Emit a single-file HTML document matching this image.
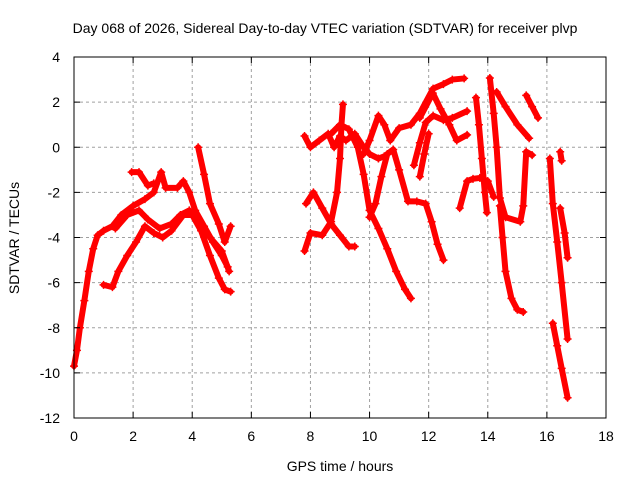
<!DOCTYPE html>
<html><head><meta charset="utf-8"><style>
body{margin:0;background:#fff}
svg{display:block;font-family:"Liberation Sans",sans-serif}
</style></head><body>
<svg id="chart" width="640" height="480">
<text x="325" y="33" text-anchor="middle" font-size="14">Day 068 of 2026, Sidereal Day-to-day VTEC variation (SDTVAR) for receiver plvp</text>
<text x="340" y="471" text-anchor="middle" font-size="14">GPS time / hours</text>
<text transform="translate(19,238) rotate(-90)" text-anchor="middle" font-size="14">SDTVAR / TECUs</text>
<g id="grid"></g><g id="marks"></g><g id="axes"></g>
</svg>
<script>
const xTicks=[0,2,4,6,8,10,12,14,16,18];
const yTicks=[4,2,0,-2,-4,-6,-8,-10,-12];
const track1=[[0,-9.7],[0.1,-9],[0.2,-8],[0.35,-6.8],[0.5,-5.5],[0.65,-4.5],[0.8,-3.9],[1.0,-3.7],[1.3,-3.5],[1.6,-3.0],[2.0,-2.6],[2.4,-2.3],[2.7,-2.0],[2.95,-1.1],[3.1,-1.8],[3.5,-1.8],[3.7,-1.5],[3.9,-2.0],[4.1,-2.8],[4.4,-3.5],[4.7,-4.2],[5.0,-4.8],[5.2,-5.3]];
const track2=[[1.95,-1.1],[2.2,-1.1],[2.5,-1.7],[2.7,-1.6]];
const track3=[[1.4,-3.6],[1.8,-3.0],[2.2,-2.8],[2.5,-3.2],[2.9,-3.6],[3.3,-3.4],[3.6,-3.0],[3.9,-2.8],[4.2,-3.3],[4.6,-4.0],[5.0,-4.6],[5.25,-5.5]];
const track4=[[1.0,-6.1],[1.3,-6.2],[1.5,-5.5],[1.8,-4.8],[2.1,-4.2],[2.4,-3.5],[2.7,-3.8],[3.0,-4.0],[3.3,-3.7],[3.7,-3.0],[4.0,-3.0],[4.3,-3.7],[4.6,-4.8],[4.9,-5.8],[5.1,-6.3],[5.3,-6.4]];
const track5=[[4.2,0.0],[4.4,-1.2],[4.6,-2.5],[4.9,-3.4],[5.1,-4.2],[5.3,-3.5]];
const track6=[[7.8,-4.6],[8.0,-3.8],[8.4,-3.9],[8.7,-3.3],[8.9,-2.0],[9.0,-0.5],[9.05,1.0],[9.1,1.9]];
const track7=[[7.85,-2.5],[8.1,-2.0],[8.4,-2.7],[8.7,-3.4],[9.0,-3.9],[9.3,-4.4],[9.5,-4.4]];
const track8=[[7.8,0.5],[8.0,0.0],[8.3,0.3],[8.6,0.6],[8.8,0.0],[9.0,0.5],[9.2,0.3],[9.5,0.6],[9.8,0.0],[10.0,-0.3],[10.3,-0.5],[10.5,-0.4]];
const track9=[[8.7,0.6],[9.0,1.0],[9.3,0.8],[9.6,0.0],[9.8,-1.2],[10.0,-2.8],[10.3,-3.6],[10.6,-4.5],[10.9,-5.5],[11.2,-6.3],[11.4,-6.7]];
const track10=[[9.8,-0.3],[10.0,0.3],[10.3,1.4],[10.5,1.0],[10.7,0.3],[11.0,0.85],[11.4,1.0],[11.7,1.5],[12.15,2.6],[12.5,2.8],[12.8,3.0],[13.2,3.05]];
const track11=[[10.0,-3.1],[10.2,-2.5],[10.4,-1.3],[10.6,-0.3],[10.8,-0.1],[11.0,-1.0],[11.3,-2.4],[11.6,-2.4],[11.9,-2.5],[12.1,-3.3],[12.3,-4.3],[12.5,-5.0]];
const track12=[[11.7,1.3],[12.14,2.4],[12.4,1.7],[12.7,1.0],[12.95,0.3],[13.3,0.55]];
const track13=[[11.5,-0.8],[11.7,0.2],[11.9,1.1],[12.15,1.4],[12.5,1.2],[12.8,1.3],[13.3,1.6]];
const track14=[[11.7,-1.3],[11.85,-0.3],[12.0,0.6]];
const track15=[[14.07,3.07],[14.2,1.5],[14.3,0.0],[14.41,-2.25],[14.6,-3.1],[15.1,-3.3],[15.2,-2.6],[15.3,-0.2],[15.5,-0.35]];
const track16=[[14.41,-2.6],[14.5,-4.0],[14.6,-5.5],[14.8,-6.7],[15.0,-7.2],[15.2,-7.3]];
const track17=[[13.6,2.2],[13.7,1.0],[13.8,-0.5],[13.9,-2.0],[13.97,-2.9]];
const track18=[[13.05,-2.7],[13.3,-1.5],[13.5,-1.4],[13.73,-1.36],[14.0,-1.5],[14.2,-2.2]];
const track19=[[15.3,2.3],[15.5,1.8],[15.7,1.3]];
const track20=[[14.3,2.45],[14.6,1.8],[15.0,1.0],[15.4,0.4]];
const track21=[[16.1,-0.5],[16.2,-2.5],[16.35,-4.2],[16.5,-6.0],[16.7,-8.5]];
const track22=[[16.45,-0.2],[16.5,-0.6]];
const track23=[[16.2,-7.8],[16.35,-8.8],[16.5,-9.8],[16.7,-11.1]];
const track24=[[16.45,-2.7],[16.6,-3.8],[16.7,-4.9]];
const tracks=[track1,track2,track3,track4,track5,track6,track7,track8,track9,track10,track11,track12,track13,track14,track15,track16,track17,track18,track19,track20,track21,track22,track23,track24];

const X0=74,X1=606,Y0=57,Y1=418;
const xs=t=>X0+(t-0)/(18-0)*(X1-X0);
const ys=v=>Y0+(4-v)/(4-(-12))*(Y1-Y0);
const NS="http://www.w3.org/2000/svg";
const grid=document.getElementById('grid'),axes=document.getElementById('axes'),marks=document.getElementById('marks');
function mk(tag,attrs,parent){const e=document.createElementNS(NS,tag);for(const k in attrs)e.setAttribute(k,attrs[k]);parent.appendChild(e);return e;}
xTicks.forEach(t=>{
  const x=xs(t);
  if(t>0&&t<18){const g=mk('line',{x1:x,x2:x,y1:Y0,y2:Y1,stroke:'#a0a0a0','stroke-dasharray':'3,3'},grid);
  
  }
  mk('line',{x1:x,x2:x,y1:Y1,y2:Y1-6,stroke:'#000'},axes);
  mk('line',{x1:x,x2:x,y1:Y0,y2:Y0+6,stroke:'#000'},axes);
  const l=mk('text',{x:x,y:Y1+23,'text-anchor':'middle','font-size':'14'},axes);l.textContent=t;
  
  
});
yTicks.forEach(v=>{
  const y=ys(v);
  if(v<4&&v>-12){const g=mk('line',{x1:X0,x2:X1,y1:y,y2:y,stroke:'#a0a0a0','stroke-dasharray':'3,3'},grid);
  
  }
  mk('line',{x1:X0,x2:X0+6,y1:y,y2:y,stroke:'#000'},axes);
  mk('line',{x1:X1,x2:X1-6,y1:y,y2:y,stroke:'#000'},axes);
  const l=mk('text',{x:X0-14,y:y+5,'text-anchor':'end','font-size':'14'},axes);l.textContent=v;
  
  
});
const frame=mk('rect',{x:X0,y:Y0,width:X1-X0,height:Y1-Y0,fill:'none',stroke:'#000'},axes);


tracks.forEach(tr=>{
  const g=mk('g',{},marks);
  
  
  mk('polyline',{points:tr.map(p=>xs(p[0])+','+ys(p[1])).join(' '),fill:'none',stroke:'#ff0000','stroke-width':'6','stroke-linejoin':'round','stroke-linecap':'round'},g);
  tr.forEach(p=>{const x=xs(p[0]),y=ys(p[1]);
    mk('path',{d:`M${x-4},${y}H${x+4}M${x},${y-4}V${y+4}`,stroke:'#ff0000','stroke-width':'1.5'},g);});
});
</script>
</body></html>
